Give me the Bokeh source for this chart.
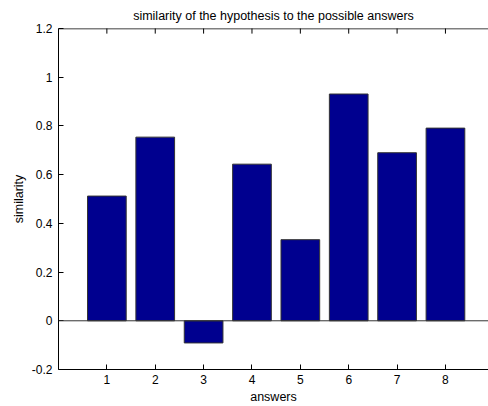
from bokeh.plotting import figure
from bokeh.models import Range1d, FixedTicker, Span, Title
from bokeh.embed import file_html
from bokeh.resources import INLINE

answers = [1, 2, 3, 4, 5, 6, 7, 8]
similarity = [0.512, 0.754, -0.091, 0.643, 0.333, 0.931, 0.690, 0.791]
y_ticks = [-0.2, 0, 0.2, 0.4, 0.6, 0.8, 1.0, 1.2]
y_tick_labels = ["-0.2", "0", "0.2", "0.4", "0.6", "0.8", "1", "1.2"]
title_text = "similarity of the hypothesis to the possible answers"
x_label = "answers"
y_label = "similarity"

FONT = "Liberation Sans"
FS = "12px"
FS_LABEL = "12.5px"
TOP_TICK_LEN = 0.021  # inward tick length on the top box edge (data units of y)

p = figure(width=488, height=406, output_backend="svg", toolbar_location=None,
           title=None,
           x_range=Range1d(0, 8.89), y_range=Range1d(y_ticks[0], y_ticks[-1]),
           min_border_left=58, min_border_right=0, min_border_top=28, min_border_bottom=36)

p.vbar(x=answers, top=similarity, width=0.8, bottom=0,
       fill_color="#00008F", line_color="#333333", line_width=1)

p.add_layout(Span(location=0, dimension="width", line_color="#333333", line_width=1))

# top box edge with inward ticks (MATLAB box style)
top_y = y_ticks[-1]
p.add_layout(Span(location=top_y, dimension="width", line_color="black",
                  line_width=1.5, level="overlay"))
p.segment(x0=answers, x1=answers, y0=[top_y] * len(answers),
          y1=[top_y - TOP_TICK_LEN] * len(answers), line_color="black",
          line_width=1, level="overlay")

p.grid.visible = False
p.outline_line_color = None
p.background_fill_color = "white"
p.border_fill_color = "white"

for ax in (p.xaxis[0], p.yaxis[0]):
    ax.major_tick_in = 5
    ax.major_tick_out = 0
    ax.minor_tick_line_color = None
    ax.axis_line_color = "black"
    ax.major_tick_line_color = "black"
    ax.major_label_text_font = FONT
    ax.major_label_text_font_size = FS
    ax.major_label_text_color = "black"
    ax.axis_label_text_font = FONT
    ax.axis_label_text_font_size = FS_LABEL
    ax.axis_label_text_font_style = "normal"
    ax.axis_label_text_color = "black"

p.xaxis[0].ticker = FixedTicker(ticks=answers)
p.xaxis[0].major_label_standoff = 5
p.xaxis[0].axis_label = x_label
p.xaxis[0].axis_label_standoff = 3

p.yaxis[0].ticker = FixedTicker(ticks=y_ticks)
p.yaxis[0].major_label_overrides = {t: l for t, l in zip(y_ticks, y_tick_labels)}
p.yaxis[0].axis_label = y_label
p.yaxis[0].major_label_standoff = 6
p.yaxis[0].axis_label_standoff = 3

p.add_layout(Title(text=title_text, align="center", text_font=FONT,
                   text_font_size=FS_LABEL, text_font_style="normal",
                   text_color="black", standoff=11,
                   background_fill_color=None, border_line_color=None), "above")

open("out.html", "w").write(file_html(p, INLINE))
